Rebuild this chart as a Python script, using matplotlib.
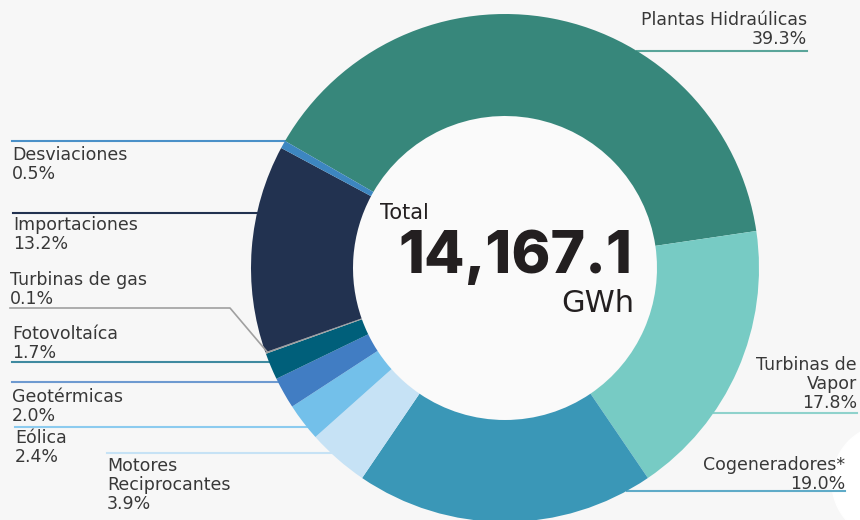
import numpy as np
import matplotlib.pyplot as plt
from matplotlib.patches import Circle

# data
fuentes = ['Plantas Hidraúlicas', 'Turbinas de Vapor', 'Cogeneradores*',
           'Motores Reciprocantes', 'Eólica', 'Geotérmicas', 'Fotovoltaíca',
           'Turbinas de gas', 'Importaciones', 'Desviaciones']
porcentajes = [39.3, 17.8, 19.0, 3.9, 2.4, 2.0, 1.7, 0.1, 13.2, 0.5]
colores = ['#37877b', '#77cbc4', '#3a97b7', '#c6e2f5', '#73c0ea',
           '#417dc3', '#005f7a', '#9e9e9e', '#223250', '#3d86c0']
total_gwh = 14167.1

# label layout (pixel coords, y from top): text lines, x, first line y, line y, side, line colour
etiquetas = {
    'Plantas Hidraúlicas': (['Plantas Hidraúlicas', '39.3%'], 807, 20, 51, 'r', '#5aa59a'),
    'Turbinas de Vapor': (['Turbinas de', 'Vapor', '17.8%'], 857, 365, 413, 'r', '#8fd2cc'),
    'Cogeneradores*': (['Cogeneradores*', '19.0%'], 845, 465, 491, 'r', '#5fabc8'),
    'Desviaciones': (['Desviaciones', '0.5%'], 12, 155, 141, 'l', '#4a90c8'),
    'Importaciones': (['Importaciones', '13.2%'], 13, 225, 213, 'l', '#223250'),
    'Turbinas de gas': (['Turbinas de gas', '0.1%'], 10, 280, 308, 'l', '#a0a0a0'),
    'Fotovoltaíca': (['Fotovoltaíca', '1.7%'], 12, 334, 362, 'l', '#3f8aa0'),
    'Geotérmicas': (['Geotérmicas', '2.0%'], 12, 397, 382, 'l', '#6e9ad0'),
    'Eólica': (['Eólica', '2.4%'], 15, 438, 427, 'l', '#8ccbef'),
    'Motores Reciprocantes': (['Motores', 'Reciprocantes', '3.9%'], 107, 466, 453, 'l', '#c6e2f5'),
}

W, H = 860, 520
cx, cy, R, r_in = 505, 268, 254, 152
bg = '#f7f7f7'
txt = '#383838'
fam = ['DejaVu Sans']

fig = plt.figure(figsize=(8.6, 5.2), dpi=100, facecolor=bg)
ax = fig.add_axes([0, 0, 1, 1])
ax.set_xlim(0, W)
ax.set_ylim(0, H)
ax.set_aspect('equal')
ax.axis('off')
ax.set_facecolor(bg)

# decorative white blob at right edge
ax.add_patch(Circle((890, H - 482), 58, color='white', zorder=0))

wedges, _ = ax.pie(porcentajes, colors=colores, startangle=150, counterclock=False,
                   center=(cx, H - cy), radius=R,
                   wedgeprops=dict(width=R - r_in, edgecolor='none'), frame=True)
ax.set_xlim(0, W)
ax.set_ylim(0, H)
ax.add_patch(Circle((cx, H - cy), r_in, color='#fafafa', zorder=0.5))

for nombre, w in zip(fuentes, wedges):
    lines, x, y0, yl, side, lc = etiquetas[nombre]
    dy = cy - yl
    dx = np.sqrt(max(R ** 2 - dy ** 2, 0))
    if nombre == 'Turbinas de gas':
        # bent leader to the thin slice
        ang = np.deg2rad((w.theta1 + w.theta2) / 2)
        ex = cx + (R - 2) * np.cos(ang)
        ey = H - cy + (R - 2) * np.sin(ang)
        ax.plot([x, 230, ex], [H - yl, H - yl, ey], color=lc, lw=1.2, zorder=3)
    elif side == 'l':
        ax.plot([x, cx - dx], [H - yl, H - yl], color=lc, lw=1.5, zorder=0.8)
    else:
        xs = cx + dx
        ax.plot([xs, x], [H - yl, H - yl], color=lc, lw=1.5, zorder=0.8)
    ha = 'left' if side == 'l' else 'right'
    for i, s in enumerate(lines):
        ax.text(x, H - (y0 + i * 19), s, ha=ha, va='center', fontsize=12.5,
                color=txt, family=fam)

ax.text(380, H - 213, 'Total', ha='left', va='center', fontsize=15,
        color='#231f20', family=fam)
ax.text(632, H - 257, f'{total_gwh:,.1f}', ha='right', va='center', fontsize=42.5,
        fontweight='heavy', color='#231f20', family=['Inter', 'DejaVu Sans'])
ax.text(634, H - 304, 'GWh', ha='right', va='center', fontsize=22,
        color='#231f20', family=fam)

fig.savefig('out.png', dpi=100, facecolor=bg)
